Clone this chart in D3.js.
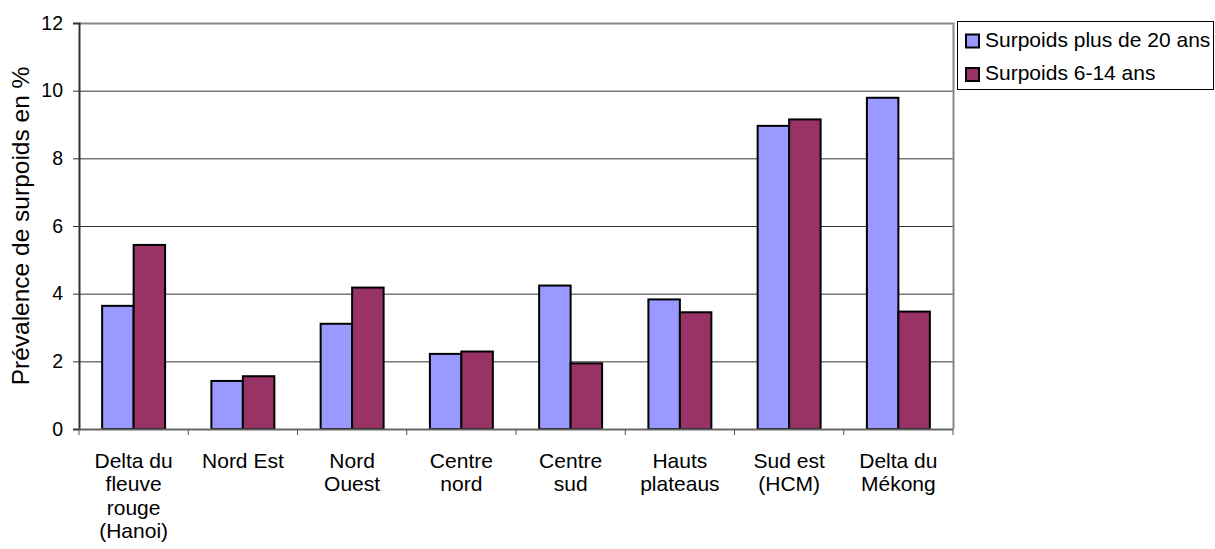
<!DOCTYPE html>
<html><head><meta charset="utf-8">
<script src="https://cdn.jsdelivr.net/npm/d3@7"></script>
<style>body{margin:0;background:#fff}svg{display:block;font-family:"Liberation Sans",Arial,sans-serif}</style>
</head><body>
<svg id="c" width="1215" height="549"></svg>
<script>
const categories = [
  ["Delta du","fleuve","rouge","(Hanoi)"],
  ["Nord Est"],
  ["Nord","Ouest"],
  ["Centre","nord"],
  ["Centre","sud"],
  ["Hauts","plateaus"],
  ["Sud est","(HCM)"],
  ["Delta du","Mékong"]
];
const seriesNames = ["Surpoids plus de 20 ans","Surpoids 6-14 ans"];
const adults = [3.64, 1.42, 3.11, 2.22, 4.24, 3.83, 8.96, 9.79];
const children = [5.44, 1.56, 4.18, 2.29, 1.94, 3.45, 9.15, 3.47];
const yTicks = [0,2,4,6,8,10,12];
const colors = ["#9999FF","#993366"];

const FS = 21;
const svg = d3.select("#c");
const L=79, R=953, T=23, B=429;
const x = d3.scaleBand().domain(d3.range(categories.length)).range([L,R]);
const inner = d3.scaleBand().domain([0,1]).range([0, x.bandwidth()]).paddingOuter(0.735).paddingInner(0);
const y = d3.scaleLinear().domain([0,12]).range([B,T]);

// gridlines
svg.append("g").selectAll("line").data(yTicks.filter(d=>d>0&&d<12)).join("line")
  .attr("x1",L).attr("x2",R).attr("y1",d=>y(d)+0.5).attr("y2",d=>y(d)+0.5)
  .attr("stroke","#333").attr("stroke-width",1);
// plot border top/right
svg.append("path").attr("d",`M${L},${T+0.5}H${R+0.5}V${B}`).attr("fill","none").attr("stroke","#888").attr("stroke-width",2);

// bars
const data = [adults, children];
categories.forEach((c,i)=>{
  [0,1].forEach(s=>{
    const v=data[s][i];
    svg.append("rect")
      .attr("x", x(i)+inner(s))
      .attr("y", y(v))
      .attr("width", inner.bandwidth())
      .attr("height", y(0)-y(v))
      .attr("fill", colors[s]).attr("stroke","#000").attr("stroke-width",2);
  });
});

// y axis
const ya = svg.append("g").attr("transform",`translate(${L},0)`)
  .call(d3.axisLeft(y).tickValues(yTicks).tickSize(6).tickPadding(10));
ya.select(".domain").attr("stroke","#333").attr("stroke-width",2);
ya.selectAll(".tick line").attr("stroke","#333");
ya.selectAll("text").attr("font-size",19.5).attr("fill","#000").attr("font-family","Liberation Sans, Arial, sans-serif");

// x axis
const xa = svg.append("g").attr("transform",`translate(0,${B})`);
xa.append("line").attr("x1",L).attr("x2",R).attr("y1",0.5).attr("y2",0.5).attr("stroke","#666").attr("stroke-width",2);
const xt = d3.range(categories.length+1).map(i=> i<categories.length? x(i): R);
xa.selectAll("line.t").data(xt).join("line").attr("class","t")
  .attr("x1",d=>d).attr("x2",d=>d).attr("y1",0).attr("y2",6).attr("stroke","#555");
const lab = xa.selectAll("text").data(categories).join("text")
  .attr("text-anchor","middle").attr("font-size",FS).attr("fill","#000")
  .attr("transform",(d,i)=>`translate(${x(i)+x.bandwidth()/2},39)`);
lab.selectAll("tspan").data(d=>d).join("tspan").attr("x",0).attr("dy",(d,j)=>j?23.4:0).text(d=>d);

// y title
svg.append("text").attr("transform",`translate(28.5,226) rotate(-90)`).attr("text-anchor","middle")
  .attr("font-size",24.5).text("Prévalence de surpoids en %");

// legend
const lg = svg.append("g");
lg.append("rect").attr("x",957.5).attr("y",21.5).attr("width",256).attr("height",68).attr("fill","#fff").attr("stroke","#000").attr("stroke-width",1);
seriesNames.forEach((n,i)=>{
  const cy = 41 + i*33.5;
  lg.append("rect").attr("x",966).attr("y",cy-6.5).attr("width",13).attr("height",13).attr("fill",colors[i]).attr("stroke","#000").attr("stroke-width",2);
  lg.append("text").attr("x",985).attr("y",cy+5.5).attr("font-size",FS).text(n);
});
</script>
</body></html>
